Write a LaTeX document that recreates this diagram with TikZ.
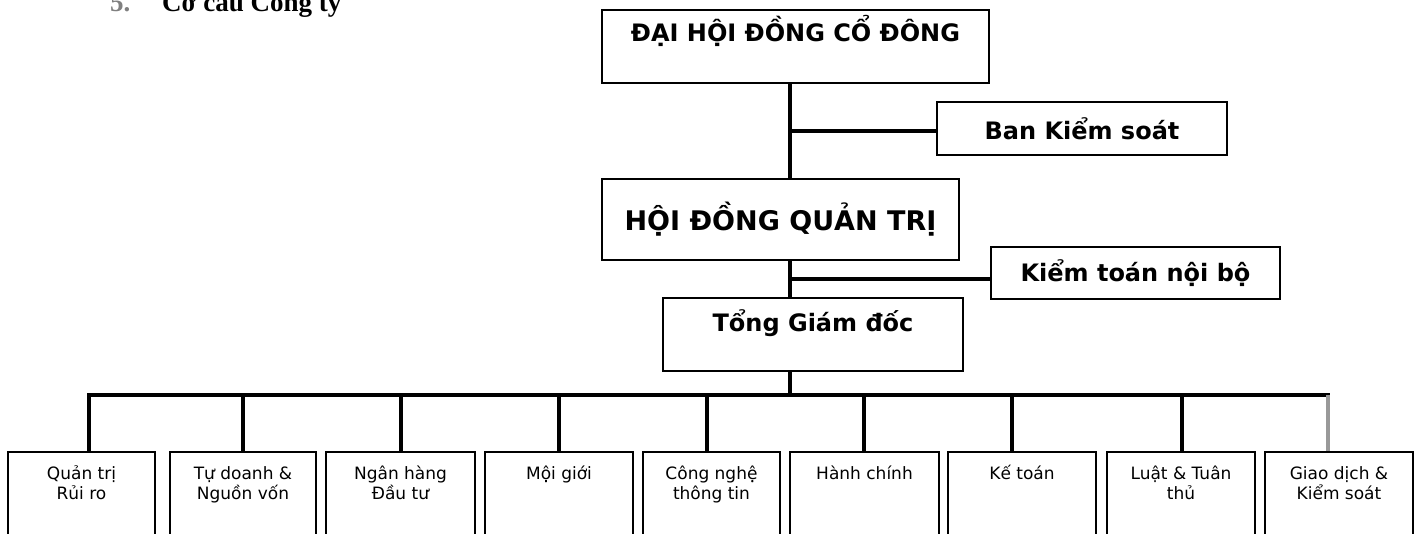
\documentclass[tikz,border=0pt]{standalone}
\usepackage{fontspec}
\setmainfont{DejaVu Sans}
\newfontfamily\titlefont{Liberation Serif}
\begin{document}
\begin{tikzpicture}[x=1pt,y=-1pt,
  box/.style={draw=black, line width=2pt, inner sep=0pt},
  unitbox/.style={draw=black, line width=1.6pt, inner sep=0pt, minimum height=110pt},
  headt/.style={font=\fontsize{24pt}{28pt}\selectfont\bfseries, inner sep=0pt},
  bigt/.style={font=\fontsize{27pt}{32pt}\selectfont\bfseries, inner sep=0pt},
  unitt/.style={font=\fontsize{17pt}{20pt}\selectfont, align=center, inner sep=0pt, anchor=base},
  conn/.style={line width=3.8pt},
  titlet/.style={font=\titlefont\fontsize{27pt}{30pt}\selectfont\bfseries, inner sep=0pt, anchor=base west}
]
\useasboundingbox (0,0) rectangle (1419,534);

% title (cut off at top, as in the scan)
\node[titlet, text=gray] (tnum) at (110,12) {5.};
\node[titlet] (title) at (162,12) {Cơ cấu Công ty};

% top boxes
\node[box, minimum width=387pt, minimum height=73pt] (dh) at (795.5,46.5) {};
\node[headt, anchor=base] (dht) at (795.5,42) {ĐẠI HỘI ĐỒNG CỔ ĐÔNG};

\node[box, minimum width=290pt, minimum height=53pt, headt] (bks) at (1082,128.5) {Ban Kiểm soát};

\node[box, minimum width=357pt, minimum height=81pt, bigt] (hq) at (780.5,219.5) {HỘI ĐỒNG QUẢN TRỊ};

\node[box, minimum width=289pt, minimum height=52pt, headt] (ktnb) at (1135.5,273) {Kiểm toán nội bộ};

\node[box, minimum width=300pt, minimum height=73pt] (tgd) at (813,334.5) {};
\node[headt, anchor=base] (tgdt) at (813,332) {Tổng Giám đốc};

% spine
\coordinate (s) at (790,0);
\coordinate (br1) at (790,131);
\coordinate (br2) at (790,279);
\coordinate (busL) at (89,395);
\coordinate (busR) at (1328,395);
\coordinate (busM) at (790,395);

\draw[conn] (dh.south -| s) -- (hq.north -| s);
\draw[conn] (br1) -- (br1 -| bks.west);
\draw[conn] (hq.south -| s) -- (tgd.north -| s);
\draw[conn] (br2) -- (br2 -| ktnb.west);
\draw[conn] (tgd.south -| s) -- (busM);
\draw[conn, line cap=rect] (busL) -- (busR);

% unit boxes (last field: baseline of the last text line)
\foreach \n/\l/\r/\dx/\by/\txt in {
  u1/8/155/89/499/{Quản trị\\Rủi ro},
  u2/170/316/243/499/{Tự doanh \&\\Nguồn vốn},
  u3/326/475/401/499/{Ngân hàng\\Đầu tư},
  u4/485/633/559/479/{Mội giới},
  u5/643/780/707/499/{Công nghệ\\thông tin},
  u6/790/939/864/479/{Hành chính},
  u7/948/1096/1012/479/{Kế toán},
  u8/1107/1255/1182/499/{Luật \& Tuân\\thủ},
  u9/1265/1413/1328/499/{Giao dịch \&\\Kiểm soát}}{
  \pgfmathsetmacro{\w}{\r-\l}
  \pgfmathsetmacro{\cx}{(\r+\l)/2}
  \node[unitbox, minimum width=\w pt] (\n) at (\cx,507) {};
  \node[unitt] (\n t) at (\cx,\by) {\txt};
  \coordinate (\n b) at (\dx,395);
}
\foreach \n in {u1,u2,u3,u4,u5,u6,u7,u8}{
  \draw[conn] (\n b) -- (\n b |- \n.north);
}
\draw[conn, draw=gray!80] (u9b) -- (u9b |- u9.north);
\end{tikzpicture}
\end{document}
